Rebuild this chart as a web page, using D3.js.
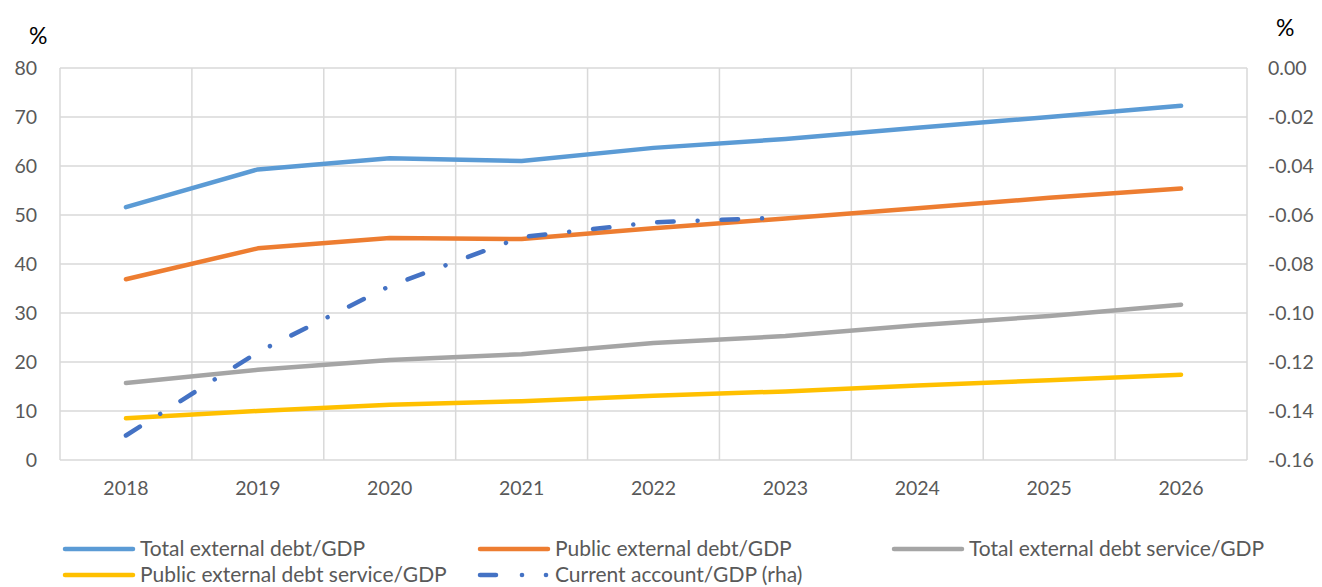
<!DOCTYPE html>
<html>
<head>
    <meta charset="utf-8">
    <title>External debt chart</title>
    <script src="https://cdnjs.cloudflare.com/ajax/libs/d3/7.8.5/d3.min.js"></script>
    <style>
        body { margin: 0; background: #fff; }
        svg text { font-family: Lato, 'Open Sans', sans-serif; }
    </style>
</head>
<body>
    <div id="chart"></div>
    <script>
//------------------------------------DATA--------------------------------
        var years = ["2018", "2019", "2020", "2021", "2022", "2023", "2024", "2025", "2026"];
        var totalDebt = [51.6, 59.3, 61.6, 61.0, 63.7, 65.5, 67.8, 70.0, 72.3];
        var publicDebt = [36.9, 43.2, 45.3, 45.1, 47.3, 49.3, 51.4, 53.5, 55.4];
        var totalService = [15.7, 18.4, 20.4, 21.6, 23.9, 25.3, 27.5, 29.4, 31.7];
        var publicService = [8.5, 10.0, 11.3, 12.0, 13.1, 14.0, 15.2, 16.3, 17.4];
        var currentAccount = [-0.150, -0.116, -0.089, -0.069, -0.063, -0.061, null, null, null];
        var leftTicks = [0, 10, 20, 30, 40, 50, 60, 70, 80];
        var rightTicks = [0, -0.02, -0.04, -0.06, -0.08, -0.10, -0.12, -0.14, -0.16];

//------------------------------------MAKES THE BOX--------------------------
        var W = 1322, H = 587;
        var margin = { top: 68, right: 75, bottom: 127, left: 60 },
            width = 1247 - margin.left,
            height = 460 - margin.top;

        var svg = d3.select("#chart").append("svg")
            .attr("width", W)
            .attr("height", H);
        var g = svg.append("g")
            .attr("transform", "translate(" + margin.left + "," + margin.top + ")");

//------------------------------------SCALES--------------------------------
        var x = d3.scaleBand().domain(years).range([0, width]).padding(0);
        var y = d3.scaleLinear().domain([0, 80]).range([height, 0]);
        var y2 = d3.scaleLinear().domain([-0.16, 0]).range([height, 0]);
        var cx = function (i) { return x(years[i]) + x.bandwidth() / 2; };

//------------------------------------GRIDLINES-----------------------------
        g.append("g").selectAll("line.h")
            .data(leftTicks)
            .enter().append("line")
            .attr("x1", 0).attr("x2", width)
            .attr("y1", function (d) { return y(d); })
            .attr("y2", function (d) { return y(d); })
            .attr("stroke", "#d9d9d9").attr("stroke-width", 1.5);

        var vx = years.map(function (d) { return x(d); }).concat([width]);
        g.append("g").selectAll("line.v")
            .data(vx)
            .enter().append("line")
            .attr("x1", function (d) { return d; }).attr("x2", function (d) { return d; })
            .attr("y1", 0).attr("y2", height)
            .attr("stroke", "#d9d9d9").attr("stroke-width", 1.5);

//------------------------------------AXES--------------------------------
        var fmt2 = function (d) { return d3.format(".2f")(d).replace("\u2212", "-"); };
        var axL = g.append("g")
            .call(d3.axisLeft(y).tickValues(leftTicks).tickSize(0).tickPadding(23));
        var axR = g.append("g")
            .attr("transform", "translate(" + width + ",0)")
            .call(d3.axisRight(y2).tickValues(rightTicks).tickSize(0).tickPadding(21).tickFormat(fmt2));
        var axB = g.append("g")
            .attr("transform", "translate(0," + height + ")")
            .call(d3.axisBottom(x).tickSize(0).tickPadding(21));
        [axL, axR, axB].forEach(function (a) {
            a.select(".domain").remove();
            a.selectAll("text").attr("fill", "#595959").attr("font-size", "19.5px")
                .style("font-family", "Lato, sans-serif");
        });

        svg.append("text").attr("x", 29).attr("y", 44).text("%")
            .attr("font-size", "23px").attr("fill", "#000");
        svg.append("text").attr("x", 1276).attr("y", 36).text("%")
            .attr("font-size", "23px").attr("fill", "#000");

//------------------------------------LINES--------------------------------
        var series = [
            { name: "Total external debt/GDP", values: totalDebt, color: "#5b9bd5", scale: y },
            { name: "Public external debt/GDP", values: publicDebt, color: "#ed7d31", scale: y },
            { name: "Total external debt service/GDP", values: totalService, color: "#a5a5a5", scale: y },
            { name: "Public external debt service/GDP", values: publicService, color: "#ffc000", scale: y },
            { name: "Current account/GDP (rha)", values: currentAccount, color: "#4472c4", scale: y2, dash: "16.5,24,0.01,24" }
        ];

        series.forEach(function (s) {
            var line = d3.line()
                .defined(function (d) { return d != null; })
                .x(function (d, i) { return cx(i); })
                .y(function (d) { return s.scale(d); });
            g.append("path")
                .datum(s.values)
                .attr("d", line)
                .attr("fill", "none")
                .attr("stroke", s.color)
                .attr("stroke-width", 4.5)
                .attr("stroke-linecap", "round")
                .attr("stroke-linejoin", "round")
                .attr("stroke-dasharray", s.dash || null);
        });

//------------------------------------LEGEND--------------------------------
        var legendPos = [[63, 549], [478, 549], [892, 549], [63, 575], [478, 575]];
        var legend = svg.append("g");
        series.forEach(function (s, i) {
            var p = legendPos[i];
            var item = legend.append("g").attr("transform", "translate(" + p[0] + "," + p[1] + ")");
            if (s.dash) {
                item.append("line").attr("x1", 2).attr("x2", 18).attr("y1", 0).attr("y2", 0)
                    .attr("stroke", s.color).attr("stroke-width", 4.5).attr("stroke-linecap", "round");
                [44, 68].forEach(function (dx) {
                    item.append("circle").attr("cx", dx).attr("cy", 0).attr("r", 2.3).attr("fill", s.color);
                });
            } else {
                item.append("line").attr("x1", 2).attr("x2", 70).attr("y1", 0).attr("y2", 0)
                    .attr("stroke", s.color).attr("stroke-width", 4.5).attr("stroke-linecap", "round");
            }
            item.append("text")
                .attr("x", 77).attr("y", 0).attr("dy", "0.35em")
                .attr("font-size", "21px").attr("fill", "#595959")
                .text(s.name);
        });
    </script>
</body>
</html>
